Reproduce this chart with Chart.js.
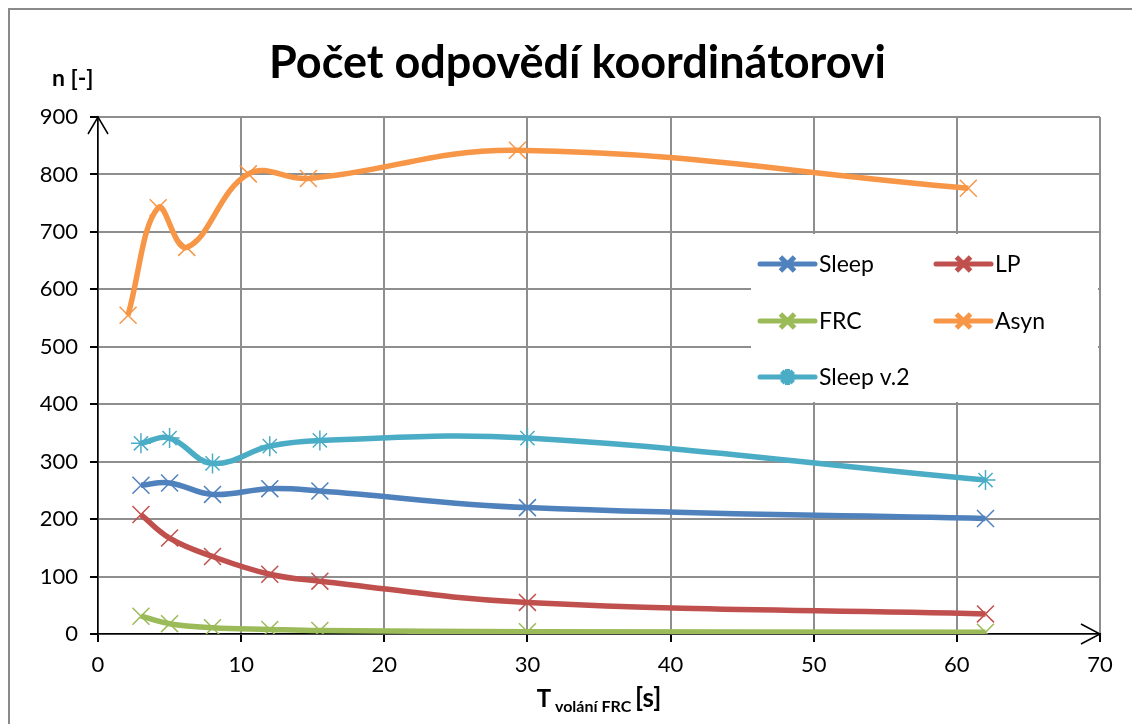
<!DOCTYPE html>
<html>
<head>
<meta charset="utf-8">
<title>Počet odpovědí koordinátorovi</title>
<script src="https://cdn.jsdelivr.net/npm/chart.js@4.4.1/dist/chart.umd.min.js"></script>
<style>
  body { margin: 0; background: #fff; }
</style>
</head>
<body>
<canvas id="chart" width="1132" height="724"></canvas>
<script>
const FONT = 'Lato, "Open Sans", sans-serif';

const chartTitle = 'Počet odpovědí koordinátorovi';

// T volání FRC [s]
const tValues = [3, 5, 8, 12, 15.5, 30, 62];
const tAsyn = [2.1, 4.2, 6.2, 10.5, 14.7, 29.3, 60.8];

// n [-]
const sleep = [259, 263, 243, 253, 249, 220, 201];
const lp = [208, 167, 135, 104, 92, 55, 35];
const frc = [31, 18, 11, 8, 6, 4, 3];
const asyn = [555, 742, 673, 801, 793, 842, 776];
const sleepV2 = [332, 341, 297, 327, 337, 341, 268];

const seriesNames = ['Sleep', 'LP', 'FRC', 'Asyn', 'Sleep v.2'];
const seriesColors = ['#4F81BD', '#C0504D', '#9BBB59', '#F79646', '#4BACC6'];
const seriesMarkers = ['crossRot', 'crossRot', 'crossRot', 'crossRot', 'star'];

const xTicks = [0, 10, 20, 30, 40, 50, 60, 70];
const yTicks = [0, 100, 200, 300, 400, 500, 600, 700, 800, 900];

function pairs(xs, ys) {
    return xs.map((x, i) => ({ x: x, y: ys[i] }));
}

const seriesData = [
    pairs(tValues, sleep),
    pairs(tValues, lp),
    pairs(tValues, frc),
    pairs(tAsyn, asyn),
    pairs(tValues, sleepV2)
];

const datasets = seriesNames.map((name, i) => ({
    label: name,
    data: seriesData[i],
    borderColor: seriesColors[i],
    backgroundColor: seriesColors[i],
    borderWidth: 5.5,
    tension: 0.4,
    pointStyle: seriesMarkers[i],
    pointRadius: seriesMarkers[i] === 'star' ? 10 : 12,
    pointBorderWidth: 1.5,
    pointBorderColor: seriesColors[i],
    pointBackgroundColor: seriesColors[i]
}));

// outer frame of the chart
const framePlugin = {
    id: 'frame',
    beforeDraw(chart) {
        const ctx = chart.ctx;
        ctx.save();
        ctx.fillStyle = '#fff';
        ctx.fillRect(0, 0, chart.width, chart.height);
        ctx.strokeStyle = '#8a8a8a';
        ctx.lineWidth = 2;
        ctx.strokeRect(9, 9, chart.width + 50, chart.height + 50);
        ctx.restore();
    }
};

// legend box placed inside the plot (two columns)
const legendPlugin = {
    id: 'innerLegend',
    afterDatasetsDraw(chart) {
        const ctx = chart.ctx;
        const cols = [760, 936];
        const rows = [264, 321, 377];
        ctx.save();
        ctx.fillStyle = '#fff';
        ctx.fillRect(751, 234, 347, 168);
        chart.data.datasets.forEach((ds, i) => {
            const x = cols[i % 2];
            const y = rows[Math.floor(i / 2)];
            ctx.strokeStyle = ds.borderColor;
            ctx.lineWidth = 5;
            ctx.lineCap = 'round';
            ctx.beginPath();
            ctx.moveTo(x, y);
            ctx.lineTo(x + 55, y);
            ctx.stroke();
            ctx.lineCap = 'butt';
            Chart.helpers.drawPoint(ctx, {
                pointStyle: ds.pointStyle,
                radius: ds.pointStyle === 'star' ? 8 : 10,
                borderWidth: 1.5,
                rotation: 0
            }, x + 27.5, y);
            ctx.fillStyle = '#000';
            ctx.font = '23px ' + FONT;
            ctx.textBaseline = 'middle';
            ctx.textAlign = 'left';
            ctx.fillText(ds.label, x + 59, y + 1);
        });
        ctx.restore();
    }
};

// title, arrows on the axes and the axis titles
const axisPlugin = {
    id: 'axisExtras',
    afterDraw(chart) {
        const ctx = chart.ctx;
        const a = chart.chartArea;
        ctx.save();
        ctx.strokeStyle = '#000';
        ctx.lineWidth = 1.5;
        ctx.beginPath();
        ctx.moveTo(a.left - 10, a.top + 17);
        ctx.lineTo(a.left, a.top);
        ctx.lineTo(a.left + 10, a.top + 17);
        ctx.moveTo(a.right - 19, a.bottom - 10);
        ctx.lineTo(a.right, a.bottom);
        ctx.lineTo(a.right - 19, a.bottom + 10);
        ctx.stroke();

        ctx.fillStyle = '#000';
        ctx.textAlign = 'center';
        ctx.textBaseline = 'middle';
        ctx.font = 'bold 45px ' + FONT;
        ctx.fillText(chartTitle, 577.5, 63);

        ctx.textBaseline = 'alphabetic';
        ctx.textAlign = 'left';
        ctx.font = 'bold 23px ' + FONT;
        ctx.fillText('n [-]', 52, 86);

        // T with subscript "volání FRC", then [s]
        const parts = [
            { t: 'T', f: 'bold 24px ' + FONT, dy: 0 },
            { t: ' volání FRC ', f: 'bold 16px ' + FONT, dy: 5 },
            { t: '[s]', f: 'bold 26px ' + FONT, dy: 0 }
        ];
        let total = 0;
        parts.forEach(p => { ctx.font = p.f; p.w = ctx.measureText(p.t).width; total += p.w; });
        let x = (a.left + a.right) / 2 - total / 2;
        parts.forEach(p => {
            ctx.font = p.f;
            ctx.fillText(p.t, x, 707 + p.dy);
            x += p.w;
        });
        ctx.restore();
    }
};

const ctx = document.getElementById('chart').getContext('2d');
const chart = new Chart(ctx, {
    type: 'line',
    data: { datasets: datasets },
    options: {
        responsive: false,
        animation: false,
        layout: { padding: { left: 0, right: 32, top: 117, bottom: 0 } },
        plugins: {
            legend: { display: false },
            tooltip: { enabled: false },
            title: { display: false }
        },
        scales: {
            x: {
                type: 'linear',
                min: 0,
                max: 70,
                afterBuildTicks: s => { s.ticks = xTicks.map(v => ({ value: v })); },
                afterFit: s => { s.height = 90; },
                grid: { color: '#8e8e8e', lineWidth: 2, tickLength: 8, tickColor: '#000' },
                border: { color: '#000', width: 1.5 },
                ticks: { color: '#000', font: { family: FONT, size: 22 }, padding: 10, maxRotation: 0 }
            },
            y: {
                min: 0,
                max: 900,
                afterBuildTicks: s => { s.ticks = yTicks.map(v => ({ value: v })); },
                afterFit: s => { s.width = 98; },
                grid: { color: '#8e8e8e', lineWidth: 2, tickLength: 8, tickColor: '#000' },
                border: { color: '#000', width: 1.5 },
                ticks: { color: '#000', font: { family: FONT, size: 22 }, padding: 12 }
            }
        }
    },
    plugins: [framePlugin, legendPlugin, axisPlugin]
});
</script>
</body>
</html>
